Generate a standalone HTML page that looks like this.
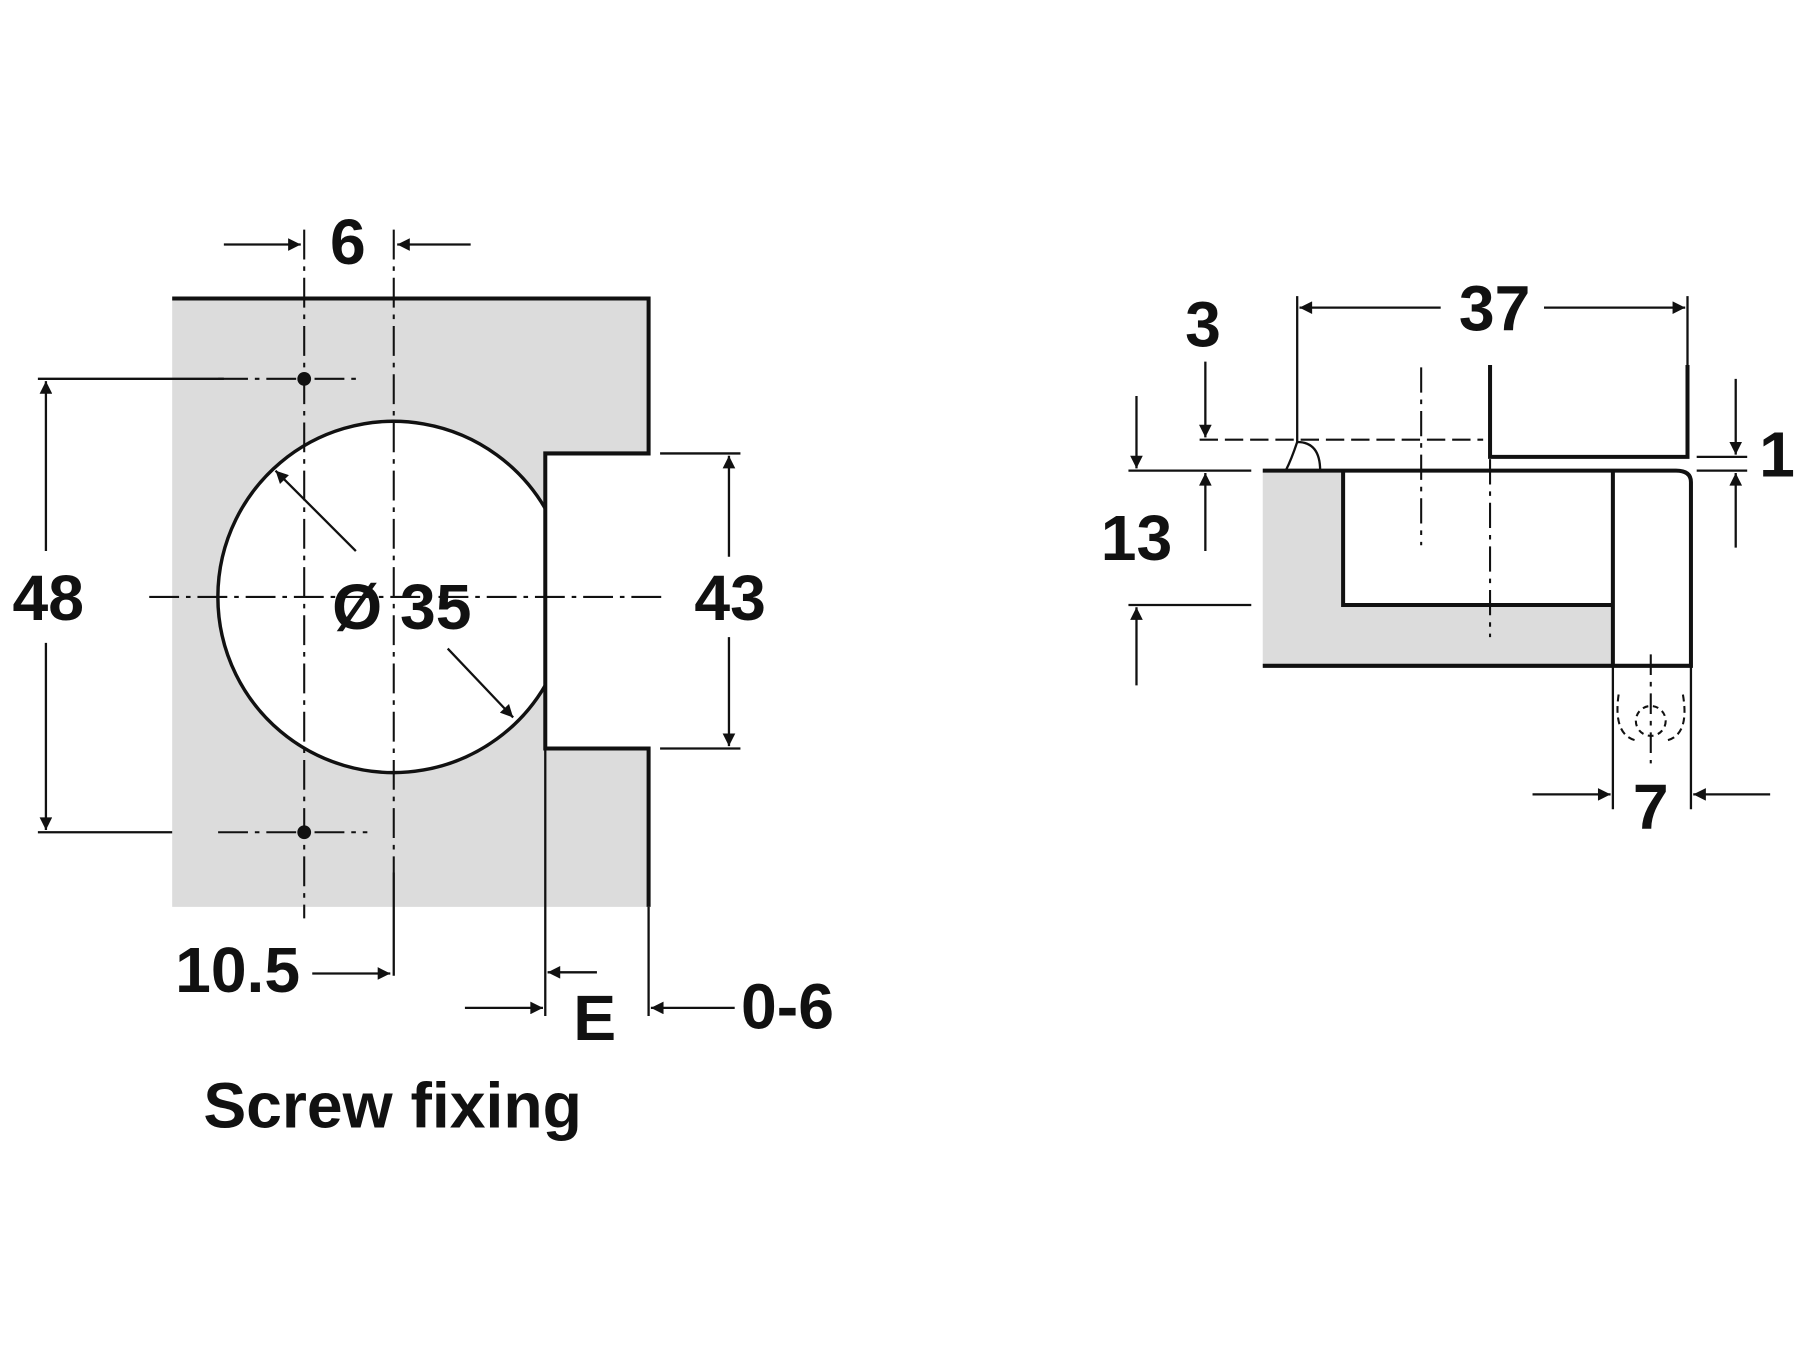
<!DOCTYPE html>
<html><head><meta charset="utf-8"><style>
html,body{margin:0;padding:0;background:#fff;}
svg{display:block;}
text{font-family:"Liberation Sans",Arial,sans-serif;font-weight:bold;fill:#111;}
</style></head><body>
<svg width="1800" height="1350" viewBox="0 0 1568 1176" xmlns="http://www.w3.org/2000/svg">
<defs>
<marker id="a" viewBox="0 0 10 10" refX="10" refY="5" markerWidth="20" markerHeight="11" markerUnits="userSpaceOnUse" orient="auto"><path d="M0,0 L10,5 L0,10 Z" fill="#111"/></marker>
</defs>
<g stroke="#111" fill="none">
<path d="M150,260 H565 V395 H475 V652 H565 V790 H150 Z" fill="#dcdcdc" stroke="none"/>
<circle cx="343" cy="520" r="153" fill="#fff" stroke="none"/>
<rect x="475" y="395" width="100" height="257" fill="#fff" stroke="none"/>
<path d="M475,443 A153,153 0 1,0 475,597" stroke-width="3"/>
<path d="M150,260 H565 V395 H475 V652 H565 V790" stroke-width="3.5"/>
<g stroke-width="1.8" stroke-dasharray="26,6,4,6">
<line x1="265" y1="200" x2="265" y2="800"/>
<line x1="343" y1="200" x2="343" y2="760"/>
<line x1="130" y1="520" x2="580" y2="520"/>
<line x1="190" y1="330" x2="310" y2="330"/>
<line x1="190" y1="725" x2="320" y2="725"/>
</g>
<line x1="343" y1="760" x2="343" y2="850" stroke-width="2"/>
<circle cx="265" cy="330" r="6" fill="#111" stroke="none"/>
<circle cx="265" cy="725" r="6" fill="#111" stroke="none"/>
<g stroke-width="2">
<line x1="33" y1="330" x2="195" y2="330"/>
<line x1="33" y1="725" x2="150" y2="725"/>
<line x1="40" y1="480" x2="40" y2="332" marker-end="url(#a)"/>
<line x1="40" y1="560" x2="40" y2="723" marker-end="url(#a)"/>
<line x1="575" y1="395" x2="645" y2="395"/>
<line x1="575" y1="652" x2="645" y2="652"/>
<line x1="635" y1="485" x2="635" y2="397" marker-end="url(#a)"/>
<line x1="635" y1="555" x2="635" y2="650" marker-end="url(#a)"/>
<line x1="195" y1="213" x2="262" y2="213" marker-end="url(#a)"/>
<line x1="410" y1="213" x2="346" y2="213" marker-end="url(#a)"/>
<line x1="310" y1="480" x2="240" y2="410" marker-end="url(#a)"/>
<line x1="390" y1="565" x2="447" y2="625" marker-end="url(#a)"/>
<line x1="272" y1="848" x2="340" y2="848" marker-end="url(#a)"/>
<line x1="475" y1="652" x2="475" y2="885"/>
<line x1="565" y1="790" x2="565" y2="885"/>
<line x1="405" y1="878" x2="473" y2="878" marker-end="url(#a)"/>
<line x1="520" y1="847" x2="477" y2="847" marker-end="url(#a)"/>
<line x1="640" y1="878" x2="567" y2="878" marker-end="url(#a)"/>
</g>
<rect x="1100" y="410" width="305" height="170" fill="#dcdcdc" stroke="none"/>
<rect x="1170" y="410" width="235" height="117" fill="#fff" stroke="none"/>
<path d="M1100,410 H1460 Q1473,410 1473,420 V580 H1100" stroke-width="3.5"/>
<path d="M1170,410 V527 H1405 M1405,410 V580" stroke-width="3.5"/>
<path d="M1298,318 V398 H1470 V318" stroke-width="3.5"/>
<path d="M1130,385 Q1150,385 1150,410 M1130,385 Q1125,400 1120,410" stroke-width="2"/>
<line x1="1045" y1="383" x2="1292" y2="383" stroke-width="1.8" stroke-dasharray="16,6"/>
<line x1="1238" y1="320" x2="1238" y2="475" stroke-width="1.8" stroke-dasharray="22,6,4,6"/>
<line x1="1298" y1="400" x2="1298" y2="555" stroke-width="1.8" stroke-dasharray="22,6,4,6"/>
<line x1="1438" y1="570" x2="1438" y2="665" stroke-width="1.8" stroke-dasharray="18,6,4,6"/>
<circle cx="1438" cy="628" r="13" stroke-width="1.8" stroke-dasharray="5,4"/>
<path d="M1410,605 Q1405,640 1425,645 M1466,605 Q1472,640 1452,645" stroke-width="1.8" stroke-dasharray="6,4"/>
<g stroke-width="2">
<line x1="1130" y1="258" x2="1130" y2="385"/>
<line x1="1470" y1="258" x2="1470" y2="318"/>
<line x1="1255" y1="268" x2="1132" y2="268" marker-end="url(#a)"/>
<line x1="1345" y1="268" x2="1468" y2="268" marker-end="url(#a)"/>
<line x1="1050" y1="315" x2="1050" y2="381" marker-end="url(#a)"/>
<line x1="1050" y1="480" x2="1050" y2="412" marker-end="url(#a)"/>
<line x1="983" y1="410" x2="1090" y2="410"/>
<line x1="983" y1="527" x2="1090" y2="527"/>
<line x1="990" y1="345" x2="990" y2="408" marker-end="url(#a)"/>
<line x1="990" y1="597" x2="990" y2="529" marker-end="url(#a)"/>
<line x1="1478" y1="398" x2="1522" y2="398"/>
<line x1="1478" y1="410" x2="1522" y2="410"/>
<line x1="1512" y1="330" x2="1512" y2="396" marker-end="url(#a)"/>
<line x1="1512" y1="477" x2="1512" y2="412" marker-end="url(#a)"/>
<line x1="1405" y1="580" x2="1405" y2="705"/>
<line x1="1473" y1="580" x2="1473" y2="705"/>
<line x1="1335" y1="692" x2="1403" y2="692" marker-end="url(#a)"/>
<line x1="1542" y1="692" x2="1475" y2="692" marker-end="url(#a)"/>
</g>
</g>
<g font-size="56" text-anchor="middle">
<text x="303" y="230">6</text>
<text x="42" y="540">48</text>
<text x="636" y="540">43</text>
<text x="350" y="548">Ø 35</text>
<text x="207" y="864">10.5</text>
<text x="518" y="906">E</text>
<text x="686" y="896">0-6</text>
<text x="342" y="982">Screw fixing</text>
<text x="1302" y="288">37</text>
<text x="1048" y="302">3</text>
<text x="990" y="488">13</text>
<text x="1548" y="415">1</text>
<text x="1438" y="722">7</text>
</g>
</svg>
</body></html>
